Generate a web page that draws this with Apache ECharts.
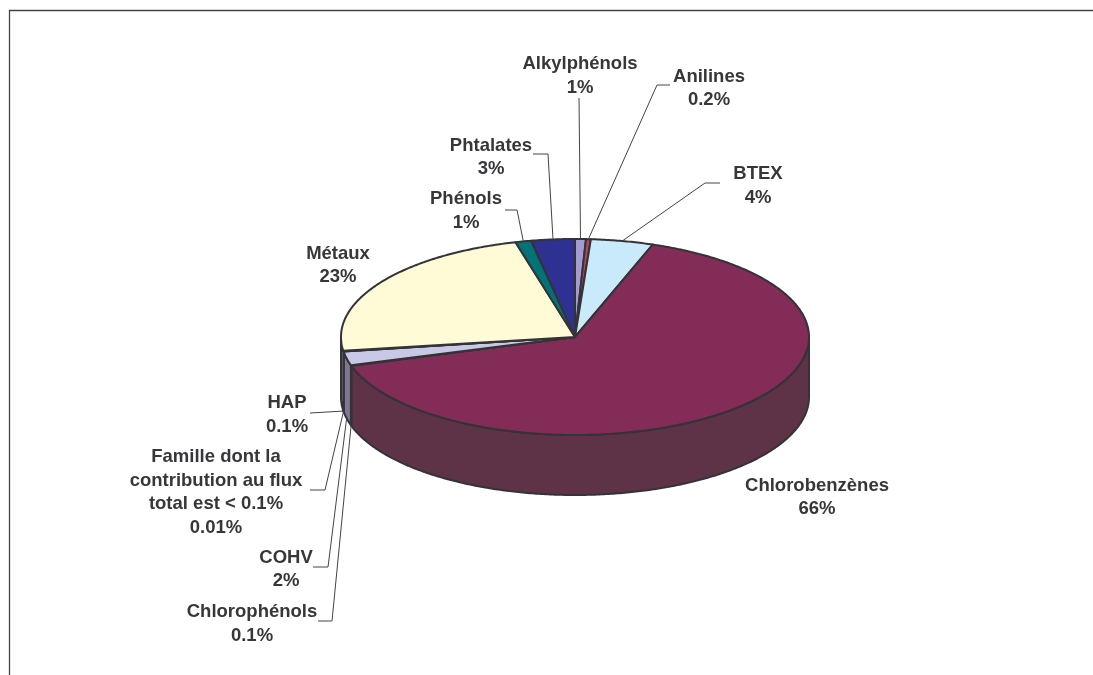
<!DOCTYPE html>
<html><head><meta charset="utf-8">
<style>html,body{margin:0;padding:0;background:#fff}#c{width:1093px;height:675px}</style>
<script src="https://cdn.jsdelivr.net/npm/echarts@6/dist/echarts.min.js"></script>
</head><body><div id="c"></div>
<script>
// Data (clockwise from 12 o'clock)
var categories = ['Alkylphénols','Anilines','BTEX','Chlorobenzènes','Chlorophénols','COHV','Famille dont la\ncontribution au flux\ntotal est < 0.1%','HAP','Métaux','Phénols','Phtalates'];
var shares = [0.75,0.33,4.32,65.0,0.1,2.3,0.01,0.1,23.2,1.1,3.0];
var shareLabels = ['1%','0.2%','4%','66%','0.1%','2%','0.01%','0.1%','23%','1%','3%'];

// Styling
var topColors  = ['#a39bd1','#b5475c','#c9eafa','#832c57','#c9c8e6','#c9c8e6','#c9c8e6','#c9c8e6','#fffbd7','#007378','#2f3192'];
var sideColors = ['#6e6890','#7a3040','#8aa0ad','#5e3247','#80778f','#80778f','#80778f','#80778f','#aaa68f','#004f52','#1f2165'];

// Layout
var CX = 575, CY = 337, RX = 234, RY = 98, DEPTH = 60;
var STROKE = '#333338', TEXT = '#37373b';
// label centre, then elbow points of the leader line; wall:true = line ends on the bottom rim
var labelLayout = [
  {x:580, y:76,  elbow:[[579,98]]},
  {x:709, y:88.5,elbow:[[670,85],[657,85]]},
  {x:758, y:186, elbow:[[720,183],[705,183]]},
  {x:817, y:497.5,elbow:null},
  {x:252, y:624, elbow:[[318,621],[332,621]], wall:true},
  {x:286, y:569.5,elbow:[[313,567],[328,567]], wall:true},
  {x:216, y:492.5,elbow:[[310,490],[325,490]], wall:true},
  {x:287, y:415, elbow:[[310,413]], wall:true},
  {x:338, y:265.5,elbow:null},
  {x:466, y:211, elbow:[[505,210],[517,210]]},
  {x:491, y:157.5,elbow:[[533,154],[548,154]]}
];

var total = shares.reduce(function(a,b){return a+b;},0);
var cum = [0];
shares.forEach(function(s,i){cum.push(cum[i]+s);});
function ang(v){return v/total*2*Math.PI;}
function pt(a,d){return [CX+RX*Math.sin(a), CY-RY*Math.cos(a)+(d||0)];}
function arc(a0,a1,d){
  var n=Math.max(2,Math.ceil(Math.abs(a1-a0)/0.01)),out=[];
  for(var i=0;i<=n;i++){out.push(pt(a0+(a1-a0)*i/n,d));}
  return out;
}
var lineStyle={stroke:STROKE,lineWidth:2,lineJoin:'round'};
var data=shares.map(function(s,i){return [i,s];});

function renderSide(params,api){
  var i=api.value(0);
  var a0=Math.max(ang(cum[i]),Math.PI/2), a1=Math.min(ang(cum[i+1]),3*Math.PI/2);
  if(a1<=a0) return {type:'group',children:[]};
  var pts=arc(a0,a1,0).concat(arc(a1,a0,DEPTH));
  return {type:'polygon',shape:{points:pts},style:Object.assign({fill:sideColors[i]},lineStyle)};
}
function renderTop(params,api){
  var i=api.value(0);
  var pts=[[CX,CY]].concat(arc(ang(cum[i]),ang(cum[i+1]),0));
  return {type:'polygon',shape:{points:pts},style:Object.assign({fill:topColors[i]},lineStyle)};
}
function renderLabel(params,api){
  var i=api.value(0), L=labelLayout[i], kids=[];
  if(L.elbow){
    var mid=ang((cum[i]+cum[i+1])/2);
    var end=pt(mid,L.wall?DEPTH:0);
    kids.push({type:'polyline',shape:{points:L.elbow.concat([end])},
      style:{stroke:'#444448',lineWidth:1,fill:null}});
  }
  kids.push({type:'text',x:L.x,y:L.y,style:{
    text:categories[i]+'\n'+shareLabels[i],
    font:'bold 18.5px "Liberation Sans", Arial, sans-serif',
    fill:TEXT,align:'center',verticalAlign:'middle',lineHeight:23.6}});
  return {type:'group',children:kids};
}
var chart=echarts.init(document.getElementById('c'),null,{renderer:'canvas'});
chart.setOption({
  animation:false,
  backgroundColor:'#fff',
  tooltip:{show:false},
  graphic:[
    {type:'polyline',shape:{points:[[9.5,675],[9.5,10.5],[1093,10.5]]},style:{stroke:'#444',lineWidth:1.3,fill:null},silent:true}
  ],
  series:[
    {type:'custom',coordinateSystem:'none',renderItem:renderSide,data:data,z:2,silent:true},
    {type:'custom',coordinateSystem:'none',renderItem:renderTop,data:data,z:3,silent:true},
    {type:'custom',coordinateSystem:'none',renderItem:renderLabel,data:data,z:4,silent:true}
  ]
});
</script></body></html>
